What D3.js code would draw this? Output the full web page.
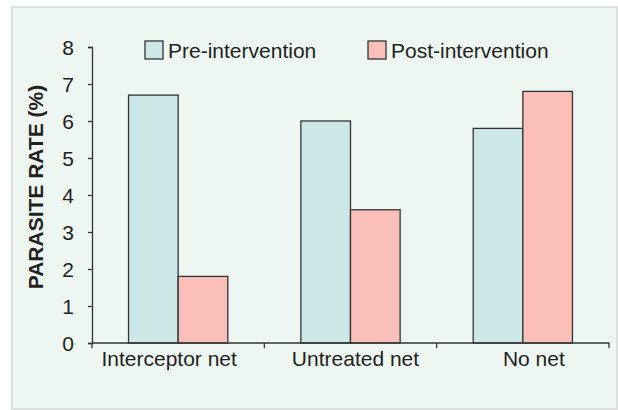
<!DOCTYPE html>
<html>
<head>
<meta charset="utf-8">
<script src="https://cdn.jsdelivr.net/npm/d3@7"></script>
<style>
  body { margin: 0; background: #fff; }
  text { font-family: "Liberation Sans", Arial, sans-serif; fill: #231f20; }
</style>
</head>
<body>
<div id="graph"></div>
<script>
var width = 618, height = 410

var categories = ['Interceptor net', 'Untreated net', 'No net']
var series = ['Pre-intervention', 'Post-intervention']
var preValues = [6.7, 6.0, 5.8]
var postValues = [1.8, 3.6, 6.8]
var yTicks = [0, 1, 2, 3, 4, 5, 6, 7, 8]

var colors = {'Pre-intervention': '#cce8e6', 'Post-intervention': '#f9bfb8'}

var rows = categories.map(function(c, i){
  return {cat: c, values: [preValues[i], postValues[i]]}
})

var svg = d3.select('#graph').html('').append('svg')
    .attr('width', width).attr('height', height)

// panel
svg.append('rect')
    .attr('x', 12).attr('y', 7).attr('width', 605).attr('height', 402)
    .attr('fill', '#eef6f2').attr('stroke', '#dedede').attr('stroke-width', 2)

var x = d3.scaleBand().domain(categories).range([92, 609]).padding(0)
var bw = x.bandwidth()
var x1 = d3.scaleBand().domain(series).range([bw * 0.212, bw * 0.788]).padding(0)
var y = d3.scaleLinear().domain([0, 8]).range([343, 47])

// bars
var groups = svg.selectAll('g.grp').data(rows).enter().append('g')
    .attr('class', 'grp')
    .attr('transform', function(d){ return 'translate(' + x(d.cat) + ',0)' })

groups.selectAll('rect').data(function(d){
    return d.values.map(function(v, i){ return {s: series[i], v: v} })
  }).enter().append('rect')
    .attr('x', function(d){ return x1(d.s) })
    .attr('width', x1.bandwidth())
    .attr('y', function(d){ return y(d.v) })
    .attr('height', function(d){ return y(0) - y(d.v) })
    .attr('fill', function(d){ return colors[d.s] })
    .attr('stroke', '#333').attr('stroke-width', 1.3)

// y axis
var yAxis = svg.append('g').attr('transform', 'translate(92,0)')
    .call(d3.axisLeft(y).tickValues(yTicks).tickSize(4).tickPadding(14))
yAxis.select('.domain').attr('stroke', '#333').attr('stroke-width', 1.3)
yAxis.selectAll('.tick line').attr('stroke', '#333').attr('stroke-width', 1.3)
yAxis.selectAll('.tick text').attr('font-size', 21).attr('font-family', null)
    .attr('dy', '0.36em')

// x axis: ticks at category boundaries
var xAxis = svg.append('g').attr('transform', 'translate(0,343)')
xAxis.append('line').attr('x1', 92).attr('x2', 609)
    .attr('stroke', '#333').attr('stroke-width', 1.3)
var bounds = categories.map(function(c){ return x(c) }).concat([x(categories[2]) + bw])
xAxis.selectAll('line.tk').data(bounds).enter().append('line')
    .attr('class', 'tk')
    .attr('x1', function(d){ return d }).attr('x2', function(d){ return d })
    .attr('y1', 0).attr('y2', 5)
    .attr('stroke', '#333').attr('stroke-width', 1.3)

var labelShift = [-9, 5, 11]
xAxis.selectAll('text').data(categories).enter().append('text')
    .attr('x', function(d, i){ return x(d) + bw / 2 + labelShift[i] })
    .attr('y', 23)
    .attr('text-anchor', 'middle')
    .attr('font-size', 21)
    .text(function(d){ return d })

// y title
svg.append('text')
    .attr('transform', 'translate(43,187) rotate(-90)')
    .attr('text-anchor', 'middle')
    .attr('font-size', 21).attr('font-weight', 'bold')
    .text('PARASITE RATE (%)')

// legend
var legendX = [145, 368]
var legend = svg.selectAll('g.lg').data(series).enter().append('g')
    .attr('class', 'lg')
    .attr('transform', function(d, i){ return 'translate(' + legendX[i] + ',41)' })
legend.append('rect')
    .attr('width', 18).attr('height', 18)
    .attr('fill', function(d){ return colors[d] })
    .attr('stroke', '#333').attr('stroke-width', 1.3)
legend.append('text')
    .attr('x', 23).attr('y', 17)
    .attr('font-size', 21)
    .text(function(d){ return d })
</script>
</body>
</html>
